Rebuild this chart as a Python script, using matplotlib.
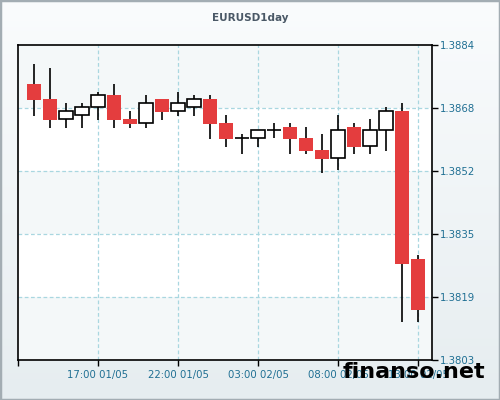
import numpy as np
import matplotlib
matplotlib.use("Agg")
import matplotlib.pyplot as plt
from matplotlib.patches import Rectangle

# hourly candles, 13:00 01/05 .. 13:00 02/05
opens = [1.38740, 1.38701, 1.38649, 1.38659, 1.38680, 1.38711, 1.38650, 1.38639,
         1.38701, 1.38670, 1.38680, 1.38701, 1.38639, 1.38600, 1.38600, 1.38621,
         1.38629, 1.38601, 1.38570, 1.38549, 1.38629, 1.38580, 1.38621, 1.38670,
         1.38289]
highs = [1.38791, 1.38780, 1.38690, 1.38690, 1.38720, 1.38739, 1.38670, 1.38711,
         1.38701, 1.38718, 1.38711, 1.38711, 1.38659, 1.38610, 1.38621, 1.38639,
         1.38639, 1.38629, 1.38611, 1.38660, 1.38639, 1.38650, 1.38680, 1.38690,
         1.38300]
lows = [1.38658, 1.38627, 1.38627, 1.38627, 1.38648, 1.38627, 1.38627, 1.38627,
        1.38648, 1.38658, 1.38658, 1.38599, 1.38578, 1.38559, 1.38578, 1.38600,
        1.38559, 1.38559, 1.38510, 1.38519, 1.38559, 1.38559, 1.38568, 1.38128,
        1.38128]
closes = [1.38699, 1.38648, 1.38670, 1.38680, 1.38711, 1.38648, 1.38638, 1.38690,
          1.38669, 1.38690, 1.38700, 1.38638, 1.38599, 1.38600, 1.38621, 1.38621,
          1.38599, 1.38568, 1.38548, 1.38621, 1.38578, 1.38621, 1.38670, 1.38278,
          1.38159]

x_ticks = [-1, 4, 9, 14, 19, 24]
x_labels = ["", "17:00 01/05", "22:00 01/05", "03:00 02/05", "08:00 02/05", "13:00 02/05"]
y_min, y_max = 1.3803, 1.3884
y_ticks = np.linspace(y_min, y_max, 6)

RED = "#e43d3e"
LABEL = "#1f6f93"

fig = plt.figure(figsize=(5, 4), dpi=100)

# background gradient + frame
bg = fig.add_axes([0, 0, 1, 1], zorder=-10)
grad = np.linspace(0, 1, 256).reshape(-1, 1)
bg.imshow(grad, aspect="auto", extent=[0, 1, 0, 1], origin="upper",
          cmap=matplotlib.colors.LinearSegmentedColormap.from_list("g", ["#fafcfd", "#e6edf0"]))
bg.add_patch(Rectangle((0, 0), 1, 1, transform=bg.transAxes, fill=False,
                       edgecolor="#a3adb3", linewidth=2.5))
bg.axis("off")

ax = fig.add_axes([0.036, 0.1, 0.828, 0.7875])
ax.set_facecolor("white")
for i in range(5):
    if i % 2 == 0:
        ax.axhspan(y_ticks[5 - i], y_ticks[4 - i], color="#f4f8f9", zorder=0, lw=0)

x = np.arange(len(opens))
o = np.array(opens)
c = np.array(closes)
up = c >= o
bottoms = np.minimum(o, c)
heights = np.abs(c - o)

ax.vlines(x, lows, highs, color="black", linewidth=1.2, zorder=3)
w = 0.84
for i in range(len(x)):
    if heights[i] < 1e-6:
        ax.hlines(o[i], x[i] - w / 2, x[i] + w / 2, color="black", linewidth=1.2, zorder=4)
    elif up[i]:
        ax.bar(x[i], heights[i], w, bottom=bottoms[i], facecolor="white",
               edgecolor="black", linewidth=1.2, zorder=4)
    else:
        ax.bar(x[i], heights[i], w, bottom=bottoms[i], facecolor=RED,
               edgecolor="none", zorder=4)

ax.set_xlim(-1, 24.875)
ax.set_ylim(y_min, y_max)

ax.set_xticks(x_ticks)
ax.set_xticklabels(x_labels)
ax.set_yticks(y_ticks)
ax.set_yticklabels(["%.4f" % v for v in y_ticks])
ax.yaxis.tick_right()
ax.tick_params(axis="both", colors="black", labelcolor=LABEL, labelsize=7.3,
               length=4, width=1, direction="out")
ax.tick_params(axis="y", pad=2)

for v in x_ticks[1:]:
    ax.axvline(v, color="#a9d7e0", linestyle=(0, (3, 2)), linewidth=0.9, zorder=1)
for v in y_ticks[1:-1]:
    ax.axhline(v, color="#a9d7e0", linestyle=(0, (3, 2)), linewidth=0.9, zorder=1)

for s in ax.spines.values():
    s.set_color("black")
    s.set_linewidth(1.2)

fig.text(0.5, 0.955, "EURUSD1day", ha="center", va="center", fontsize=7.5,
         fontweight="bold", color="#4a5866")

# site watermark, drawn over the last tick label as in the original
fig.text(0.97, 0.056, "finanso.net", ha="right", va="baseline", fontsize=16,
         fontweight="bold", color="black", zorder=20)

fig.savefig("out.png", dpi=100)
